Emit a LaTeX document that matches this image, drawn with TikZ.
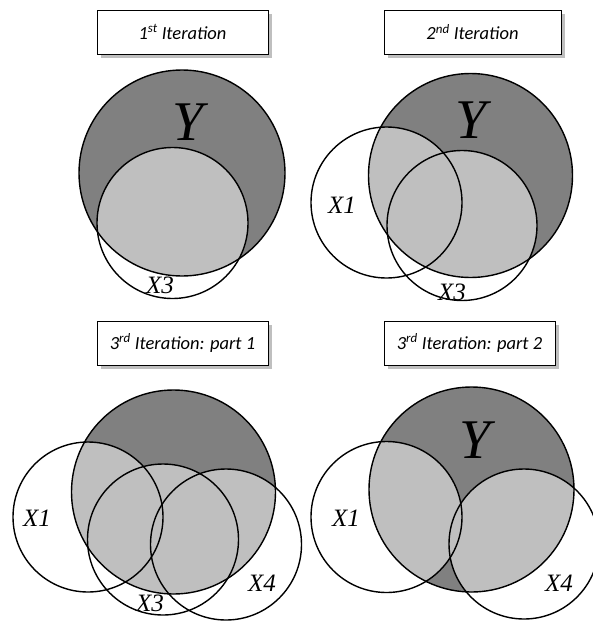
\documentclass[tikz,border=0pt]{standalone}
\usepackage{fontspec}
\setmainfont{Liberation Serif}
\newfontfamily\titlefont{Carlito}
\newfontfamily\labfont{Liberation Serif}
\begin{document}
\begin{tikzpicture}[x=1pt,y=-1pt,
  circ/.style={draw=black,line width=1.4pt},
  ydark/.style={fill=black!50},
  xlight/.style={fill=black!25},
  titlebox/.style={draw=black,line width=1pt,fill=white,minimum width=171pt,minimum height=44pt,inner sep=0pt,font=\titlefont\itshape\fontsize{18.5}{21}\selectfont},
  shadowbox/.style={fill=black!25,minimum width=171pt,minimum height=44pt,inner sep=0pt},
  xlab/.style={font=\labfont\itshape\fontsize{25}{28}\selectfont,inner sep=0pt},
  ylab/.style={font=\labfont\itshape\fontsize{56}{60}\selectfont,inner sep=0pt}]
\useasboundingbox[fill=white] (0,0) rectangle (592,621);

% ---------- titles ----------
\node[shadowbox] (s1) at (186.5,35.5) {};
\node[titlebox] (t1) at (182.5,32) {1\textsuperscript{st} Iteration};
\node[shadowbox,minimum width=177pt] (s2) at (476.5,35.5) {};
\node[titlebox,minimum width=177pt] (t2) at (472.5,32) {2\textsuperscript{nd} Iteration};
\node[shadowbox] (s3) at (186.5,346.5) {};
\node[titlebox] (t3) at (182.5,343) {3\textsuperscript{rd} Iteration: part 1};
\node[shadowbox] (s4) at (473.5,346.5) {};
\node[titlebox] (t4) at (469.5,343) {3\textsuperscript{rd} Iteration: part 2};

% ---------- panel 1 ----------
\fill[ydark] (182,173) circle[radius=103];
\begin{scope}
  \clip (182,173) circle[radius=103];
  \fill[xlight] (172.5,223) circle[radius=75.5];
\end{scope}
\draw[circ] (182,173) circle[radius=103];
\draw[circ] (172.5,223) circle[radius=75.5];
\node[ylab] (y1) at (188,122) {Y};
\node[xlab] (x31) at (160,285) {X3};

% ---------- panel 2 ----------
\fill[ydark] (470.5,175.5) circle[radius=102];
\begin{scope}
  \clip (470.5,175.5) circle[radius=102];
  \fill[xlight] (386.5,202.5) circle[radius=75.5];
  \fill[xlight] (462,225.5) circle[radius=75];
\end{scope}
\draw[circ] (470.5,175.5) circle[radius=102];
\draw[circ] (386.5,202.5) circle[radius=75.5];
\draw[circ] (462,225.5) circle[radius=75];
\node[ylab] (y2) at (471,120) {Y};
\node[xlab] (x12) at (342,205) {X1};
\node[xlab] (x32) at (452,292) {X3};

% ---------- panel 3 ----------
\fill[ydark] (173.5,492) circle[radius=102];
\begin{scope}
  \clip (173.5,492) circle[radius=102];
  \fill[xlight] (88,517) circle[radius=75];
  \fill[xlight] (163,539.5) circle[radius=75.5];
  \fill[xlight] (226,544.5) circle[radius=75.5];
\end{scope}
\draw[circ] (173.5,492) circle[radius=102];
\draw[circ] (88,517) circle[radius=75];
\draw[circ] (163,539.5) circle[radius=75.5];
\draw[circ] (226,544.5) circle[radius=75.5];
\node[xlab] (x13) at (37,518) {X1};
\node[xlab] (x33) at (150,603) {X3};
\node[xlab] (x43) at (262,583) {X4};

% ---------- panel 4 ----------
\fill[ydark] (471.5,489.5) circle[radius=102.5];
\begin{scope}
  \clip (471.5,489.5) circle[radius=102.5];
  \fill[xlight] (386.5,517) circle[radius=75.5];
  \fill[xlight] (524,544) circle[radius=75];
\end{scope}
\draw[circ] (471.5,489.5) circle[radius=102.5];
\draw[circ] (386.5,517) circle[radius=75.5];
\draw[circ] (524,544) circle[radius=75];
\node[ylab] (y4) at (475,440) {Y};
\node[xlab] (x14) at (346,518) {X1};
\node[xlab] (x44) at (559,583) {X4};
\end{tikzpicture}
\end{document}
